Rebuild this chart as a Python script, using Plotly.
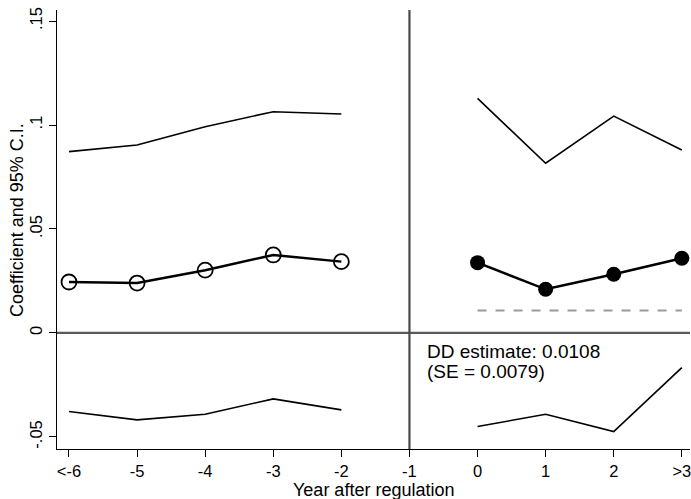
import plotly.graph_objects as go

categories = ["<-6", "-5", "-4", "-3", "-2", "-1", "0", "1", "2", ">3"]
pre_idx = [0, 1, 2, 3, 4]
post_idx = [6, 7, 8, 9]
pre_coef = [0.0245, 0.0240, 0.0302, 0.0375, 0.0343]
pre_upper = [0.0872, 0.0904, 0.0992, 0.1064, 0.1053]
pre_lower = [-0.0378, -0.0418, -0.0391, -0.0317, -0.0370]
post_coef = [0.0338, 0.0210, 0.0282, 0.0359]
post_upper = [0.1128, 0.0816, 0.1043, 0.0880]
post_lower = [-0.0450, -0.0391, -0.0474, -0.0167]
dd_estimate = 0.0108
dd_se = 0.0079
event_idx = 5
y_ticks = [-0.05, 0, 0.05, 0.1, 0.15]
y_ticklabels = ["-.05", "0", ".05", ".1", ".15"]

FONT = "Liberation Sans, Arial, sans-serif"

fig = go.Figure()

# Reference lines
fig.add_shape(type="line", xref="paper", yref="y", x0=0, x1=1, y0=0, y1=0,
              line=dict(color="#5a5a5a", width=2.2), layer="below")
fig.add_shape(type="line", xref="x", yref="paper", x0=event_idx, x1=event_idx, y0=0, y1=1,
              line=dict(color="#4a4a4a", width=2.2), layer="below")

# Confidence bands
for xs, ys in [(pre_idx, pre_upper), (pre_idx, pre_lower), (post_idx, post_upper), (post_idx, post_lower)]:
    fig.add_trace(go.Scatter(x=xs, y=ys, mode="lines", line=dict(color="black", width=1.6),
                             showlegend=False, hoverinfo="skip", cliponaxis=False))

# DD estimate dashed line
fig.add_trace(go.Scatter(x=[post_idx[0], post_idx[-1]], y=[dd_estimate, dd_estimate], mode="lines",
                         line=dict(color="#9a9a9a", width=2, dash="dash"), showlegend=False))

# Coefficients
fig.add_trace(go.Scatter(x=pre_idx, y=pre_coef, mode="lines+markers",
                         line=dict(color="black", width=2.5),
                         marker=dict(symbol="circle-open", size=15, color="black", line=dict(width=1.8)),
                         showlegend=False, cliponaxis=False))
fig.add_trace(go.Scatter(x=post_idx, y=post_coef, mode="lines+markers",
                         line=dict(color="black", width=2.5),
                         marker=dict(symbol="circle", size=15, color="black"),
                         showlegend=False, cliponaxis=False))

# DD estimate text (two lines, tight spacing)
fig.add_annotation(x=0, y=0, xref="x", yref="y", xanchor="left", yanchor="middle",
                   text=f"DD estimate: {dd_estimate:.4f}", showarrow=False, align="left",
                   xshift=356, yshift=-19,
                   font=dict(family=FONT, size=19, color="black"))
fig.add_annotation(x=0, y=0, xref="x", yref="y", xanchor="left", yanchor="middle",
                   text=f"(SE = {dd_se:.4f})", showarrow=False, align="left",
                   xshift=356, yshift=-39,
                   font=dict(family=FONT, size=19, color="black"))

# Axis titles
fig.add_annotation(x=0.5, y=0, xref="paper", yref="paper", yshift=-41, xanchor="center", yanchor="middle",
                   text="Year after regulation", showarrow=False,
                   font=dict(family=FONT, size=18, color="black"))
fig.add_annotation(x=0, y=0.5216, xref="paper", yref="paper", xshift=-40, xanchor="center", yanchor="middle",
                   text="Coefficient and 95% C.I.", textangle=-90, showarrow=False,
                   font=dict(family=FONT, size=18, color="black"))

fig.update_layout(
    width=691, height=499,
    margin=dict(l=57, r=1, t=10, b=50),
    paper_bgcolor="white", plot_bgcolor="white",
    font=dict(family=FONT, size=16.5, color="black"),
    xaxis=dict(range=[-0.176, 9.12], tickmode="array", tickvals=list(range(len(categories))),
               ticktext=categories, showgrid=False, zeroline=False, automargin=False,
               ticklabeloverflow="allow",
               showline=True, linecolor="black", linewidth=1.2,
               ticks="outside", ticklen=7, tickcolor="black"),
    yaxis=dict(range=[-0.0558, 0.1553], tickmode="array", tickvals=y_ticks, ticktext=y_ticklabels,
               tickangle=-90, showgrid=False, zeroline=False, automargin=False,
               ticklabeloverflow="allow",
               showline=True, linecolor="black", linewidth=1.2,
               ticks="outside", ticklen=7, tickcolor="black"),
)

# Remove the default page margin so the figure fills the window exactly
fig.write_html("out.html",
               config={"displayModeBar": False},
               post_script="document.body.style.margin='0';document.body.style.overflow='hidden';")
